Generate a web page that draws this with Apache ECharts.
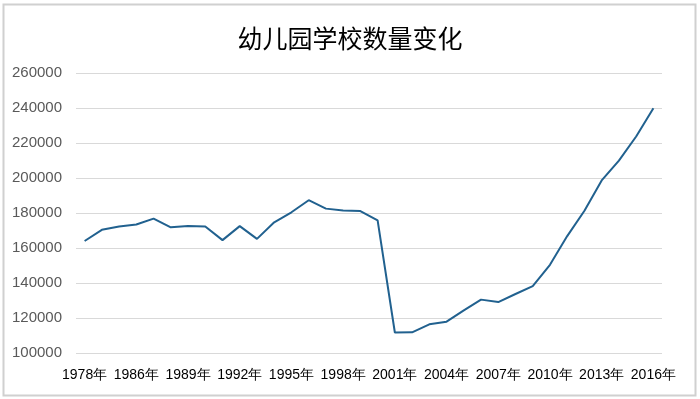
<!DOCTYPE html>
<html>
<head>
<meta charset="utf-8">
<script src="https://cdn.jsdelivr.net/npm/echarts@6/dist/echarts.min.js"></script>
<style>html,body{margin:0;padding:0;background:#fff;}#c{width:700px;height:399px;}</style>
</head>
<body>
<div id="c"></div>
<script>
const years = ['1978年','1980年','1985年','1986年','1987年','1988年','1989年','1990年','1991年','1992年','1993年','1994年','1995年','1996年','1997年','1998年','1999年','2000年','2001年','2002年','2003年','2004年','2005年','2006年','2007年','2008年','2009年','2010年','2011年','2012年','2013年','2014年','2015年','2016年'];
const schools = [164000,170400,172300,173400,176800,171800,172600,172300,164500,172500,165200,174700,180400,187300,182500,181400,181100,175800,111700,111800,116400,117900,124400,130500,129100,133700,138200,150400,166800,181300,198600,209900,223700,239800];
const yMin = 100000, yMax = 260000, yStep = 20000;

const chart = echarts.init(document.getElementById('c'));
chart.setOption({
  backgroundColor: '#fff',
  animation: false,
  title: {
    text: '幼儿园学校数量变化',
    left: 'center',
    top: 21,
    textStyle: {fontFamily: 'Noto Sans CJK SC', fontSize: 25, fontWeight: 'normal', color: '#000'}
  },
  graphic: [{
    type: 'rect', shape: {x: 3.5, y: 4.5, width: 692, height: 391},
    style: {fill: 'none', stroke: '#d0d0d0', lineWidth: 2}, silent: true
  }],
  grid: {left: 76, right: 38, top: 73, bottom: 46},
  xAxis: {
    type: 'category',
    data: years,
    boundaryGap: true,
    axisLine: {show: false},
    axisTick: {show: false},
    axisLabel: {interval: 2, margin: 15, color: '#000', fontSize: 14, fontFamily: 'Liberation Sans'}
  },
  yAxis: {
    type: 'value',
    min: yMin, max: yMax, interval: yStep,
    axisLine: {show: false},
    axisTick: {show: false},
    axisLabel: {margin: 14, color: '#595959', fontSize: 15, fontFamily: 'Liberation Sans', formatter: v => String(v)},
    splitLine: {lineStyle: {color: '#d9d9d9', width: 1}}
  },
  series: [{
    type: 'line',
    data: schools,
    showSymbol: false,
    lineStyle: {color: '#21618f', width: 2},
    itemStyle: {color: '#21618f'}
  }]
});
</script>
</body>
</html>
